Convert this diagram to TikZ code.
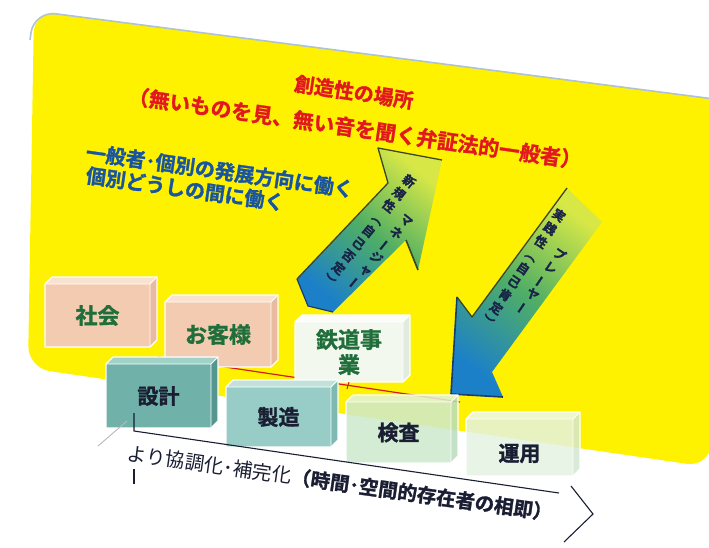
\documentclass[tikz,border=0pt]{standalone}
\usepackage{fontspec}
\setmainfont{Noto Sans CJK JP}[BoldFont={Noto Sans CJK JP Bold}, BoldFeatures={FakeBold=1.4}]
\definecolor{panelyellow}{RGB}{255,242,0}
\definecolor{paneledge}{RGB}{175,195,212}
\definecolor{titlered}{RGB}{226,24,32}
\definecolor{textblue}{RGB}{24,84,160}
\definecolor{boxgreen}{RGB}{32,110,58}
\definecolor{darknavy}{RGB}{25,30,50}
\definecolor{arrowblue}{RGB}{28,128,200}
\definecolor{arrowgreen}{RGB}{80,175,100}
\definecolor{arrowtip}{RGB}{215,232,70}
\definecolor{edgedark}{RGB}{60,70,35}
\definecolor{headdark}{RGB}{25,60,110}
\definecolor{arrowtext}{RGB}{25,35,70}
\definecolor{redline}{RGB}{210,30,25}
\definecolor{pinkfront}{RGB}{243,203,176}
\definecolor{pinktop}{RGB}{249,226,208}
\definecolor{pinkside}{RGB}{234,186,160}
\definecolor{whitefront}{RGB}{243,248,238}
\definecolor{whitetop}{RGB}{252,253,250}
\definecolor{whiteside}{RGB}{226,236,222}
\definecolor{tealfront}{RGB}{112,178,170}
\definecolor{tealtop}{RGB}{160,210,200}
\definecolor{tealside}{RGB}{85,150,145}
\definecolor{aquafront}{RGB}{152,204,198}
\definecolor{aquatop}{RGB}{192,226,218}
\definecolor{aquaside}{RGB}{125,185,178}
\definecolor{mintfront}{RGB}{205,233,205}
\definecolor{minttop}{RGB}{225,242,222}
\definecolor{mintside}{RGB}{185,220,190}
\definecolor{palefront}{RGB}{228,243,226}
\definecolor{paletop}{RGB}{238,248,236}
\definecolor{paleside}{RGB}{210,232,210}
\tikzset{
  titletext/.style={text=titlered, font=\bfseries\fontsize{20}{22}\selectfont, inner sep=0pt},
  bluetext/.style={text=textblue, font=\bfseries\fontsize{20}{22}\selectfont, inner sep=0pt, anchor=west},
  toplabel/.style={text=boxgreen, font=\bfseries\fontsize{22}{25}\selectfont, align=center, inner sep=0pt},
  botlabel/.style={text=darknavy, font=\bfseries\fontsize{21}{23}\selectfont, inner sep=0pt},
  colstack/.style={text=arrowtext, font=\bfseries\fontsize{12.5}{16}\selectfont, inner sep=0pt, anchor=north},
  pink front/.style={fill=pinkfront}, pink top/.style={fill=pinktop}, pink side/.style={fill=pinkside},
  white front/.style={fill=whitefront}, white top/.style={fill=whitetop}, white side/.style={fill=whiteside},
  teal front/.style={fill=tealfront}, teal top/.style={fill=tealtop}, teal side/.style={fill=tealside},
  aqua front/.style={fill=aquafront}, aqua top/.style={fill=aquatop}, aqua side/.style={fill=aquaside},
  mint front/.style={fill=mintfront, fill opacity=0.85}, mint top/.style={fill=minttop, fill opacity=0.85}, mint side/.style={fill=mintside, fill opacity=0.85},
  pale front/.style={fill=palefront, fill opacity=0.85}, pale top/.style={fill=paletop, fill opacity=0.85}, pale side/.style={fill=paleside, fill opacity=0.85},
  glassedge/.style={draw=white, line width=1.2, line join=round},
}
\newcommand{\glassbox}[8]{%
  \fill[#6 top] (#2,#3+7) -- (#2+7,#3) -- (#4,#3) -- (#4-7,#3+7) -- cycle;
  \fill[#6 side] (#4-7,#3+7) -- (#4,#3) -- (#4,#5-7) -- (#4-7,#5) -- cycle;
  \fill[#6 front] (#2,#3+7) rectangle (#4-7,#5);
  \path[glassedge] (#2,#3+7) -- (#2+7,#3) -- (#4,#3) -- (#4,#5-7) -- (#4-7,#5) -- (#2,#5) -- cycle;
  \path[glassedge, line width=0.8] (#2,#3+7) -- (#4-7,#3+7) -- (#4,#3) (#4-7,#3+7) -- (#4-7,#5);
  \node[#8] (#1) at ({(#2+#4-7)/2},{(#3+7+#5)/2}) {#7};
}
\newcommand{\vbar}{\rotatebox[origin=c]{90}{ー}}
\newcommand{\twocol}[1]{\begin{tabular}{@{}c@{\hspace{10pt}}c@{}}#1\end{tabular}}
\begin{document}
\begin{tikzpicture}[x=1pt,y=-1pt]
\useasboundingbox (0,0) rectangle (709,547);
\fill[white] (0,0) rectangle (709,547);
% yellow panel
\fill[panelyellow, rounded corners=22] (34,11) -- (745,103) -- (709,467) -- (28,368) -- cycle;
\draw[paneledge, line width=1.6, rounded corners=22] (30,40) -- (34,11) -- (745,103);
% texts on panel
\node[titletext, rotate=-8.5] (place) at (354,92) {創造性の場所};
\node[titletext, rotate=-8.2, font=\bfseries\fontsize{20.8}{22}\selectfont] (dialectic) at (355,128) {（無いものを見、無い音を聞く弁証法的一般者）};
\node[bluetext, rotate=-8] (general) at (86,152) {一般者･個別の発展方向に働く};
\node[bluetext, rotate=-8] (between) at (86,175) {個別どうしの間に働く};
% up arrow
\shade[bottom color=arrowblue, top color=arrowtip, middle color=arrowgreen, shading angle=-39]
  (297,279) -- (388,183) -- (378,148) -- (442,160) -- (418,270) -- (406,240) -- (333,312) -- (308,306) -- cycle;
\draw[edgedark, line width=1.3, line join=round] (297,279) -- (388,183) -- (378,148) -- (442,160);
\draw[edgedark, line width=1.6] (406,240) -- (418,270);
\draw[headdark, line width=1.2] (297,279) -- (308,306) -- (333,312);
\node[colstack, rotate=-39] (uptext) at (422,183) {\twocol{新&\\規&\\性&マ\\︵&ネ\\自&\vbar\\己&ジ\\否&ャ\\定&\vbar\\︶&}};
% down arrow
\shade[bottom color=arrowblue, top color=arrowtip, middle color=arrowgreen, shading angle=-36]
  (567,188) -- (602,222) -- (492,372) -- (503,397) -- (451,394) -- (457,297) -- (472,317) -- cycle;
\draw[edgedark, line width=1.3, line join=round] (567,188) -- (472,317) -- (457,297);
\draw[headdark, line width=1.6, line join=round] (457,297) -- (451,394) -- (503,397);
\node[colstack, rotate=-34] (downtext) at (572,216) {\twocol{実&\\践&\\性&プ\\︵&レ\\自&\vbar\\己&ヤ\\肯&\vbar\\定&\\︶&}};
% red connector line
\coordinate (redL) at (158,357);
\coordinate (redR) at (460,402);
\coordinate (redJ) at (347,389);
\draw[redline, line width=1.2] (redL) -- (redR);
\draw[redline, line width=1] (redL) -- ++(0,7);
% top row boxes
\glassbox{society}{45}{277}{157}{347}{pink}{社会}{toplabel}
\glassbox{customer}{165}{295}{278}{367}{pink}{お客様}{toplabel}
\glassbox{railway}{295}{315}{410}{382}{white}{鉄道事\\業}{toplabel}
\draw[redline, line width=1] (railway.south |- 0,382) -- (redJ);
% bottom row boxes
\glassbox{design}{106}{357}{218}{428}{teal}{設計}{botlabel}
\glassbox{manufacture}{226}{380}{338}{447}{aqua}{製造}{botlabel}
\glassbox{inspection}{346}{395}{458}{463}{mint}{検査}{botlabel}
\glassbox{operation}{466}{412}{580}{476}{pale}{運用}{{botlabel, yshift=-6pt}}
% bottom arrow
\coordinate (baL) at (98,446);
\coordinate (baL2) at (127,421);
\coordinate (baT) at (134,413);
\coordinate (baS) at (134,431);
\coordinate (baE) at (559,493);
\coordinate (chA) at (571,486);
\coordinate (chB) at (593,514);
\coordinate (chC) at (564,542);
\draw[gray!55, line width=0.9] (baL) -- (baL2);
\draw[darknavy, line width=1.1] (baT) -- (baS) -- (baE);
\draw[darknavy, line width=1.1, line join=miter] (chA) -- (chB) -- (chC);
\draw[darknavy, line width=1.6] (134,469) -- (134,484);
\node[text=darknavy, font=\fontsize{19.5}{21}\selectfont, inner sep=0pt, rotate=-8] (relation) at (340,483)
  {より協調化･補完化{\bfseries （時間･空間的存在者の相即）}};
\end{tikzpicture}
\end{document}
